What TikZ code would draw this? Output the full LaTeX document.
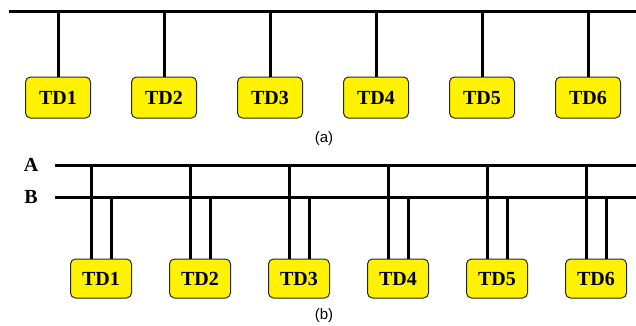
\documentclass[tikz,border=0pt]{standalone}
\usepackage{fontspec}
\setmainfont{Liberation Serif}
\newfontfamily\labelfont{Liberation Sans}
\begin{document}
\begin{tikzpicture}[x=1pt,y=-1pt,
  td/.style={draw=black!85,line width=1pt,fill=yellow,rounded corners=5pt,
    font=\fontsize{20}{20}\selectfont\bfseries,inner sep=0pt,
    text height=13.5pt,text depth=0pt},
  tdA/.style={td,minimum width=65pt,minimum height=41pt},
  tdB/.style={td,minimum width=61pt,minimum height=39pt},
  bus/.style={line width=3pt},
  caption/.style={font=\labelfont\fontsize{15}{15}\selectfont}]
\useasboundingbox (0,0) rectangle (636,325);

% (a) single bus with one stub per device
\coordinate (busL) at (9,11);
\coordinate (busR) at (636,11);
\draw[bus] (busL) -- (busR);
\foreach \i/\x in {1/58,2/164,3/270,4/376,5/482,6/588}{
  \node[tdA] (a\i) at (\x,97.5) {TD\i};
  \coordinate (ta\i) at (\x,11);
  \draw[bus] (ta\i) -- (a\i.north);
}
\node[caption] (capa) at (324,139) {(a)};

% (b) dual bus A/B, each device attached to both
\node[font=\fontsize{20}{20}\selectfont\bfseries] (lblA) at (31,165) {A};
\node[font=\fontsize{20}{20}\selectfont\bfseries] (lblB) at (31,197) {B};
\coordinate (AL) at (55,165);
\coordinate (AR) at (636,165);
\coordinate (BL) at (55,197);
\coordinate (BR) at (636,197);
\draw[bus] (AL) -- (AR);
\draw[bus] (BL) -- (BR);
\foreach \i/\x in {1/101,2/200,3/299,4/398,5/497,6/596}{
  \node[tdB] (b\i) at (\x,278.5) {TD\i};
  \coordinate (sa\i) at (\x-10,165);
  \coordinate (sb\i) at (\x+10,197);
  \draw[bus] (sa\i) -- (sa\i |- b\i.north);
  \draw[bus] (sb\i) -- (sb\i |- b\i.north);
}
\node[caption] (capb) at (324,316) {(b)};
\end{tikzpicture}
\end{document}
